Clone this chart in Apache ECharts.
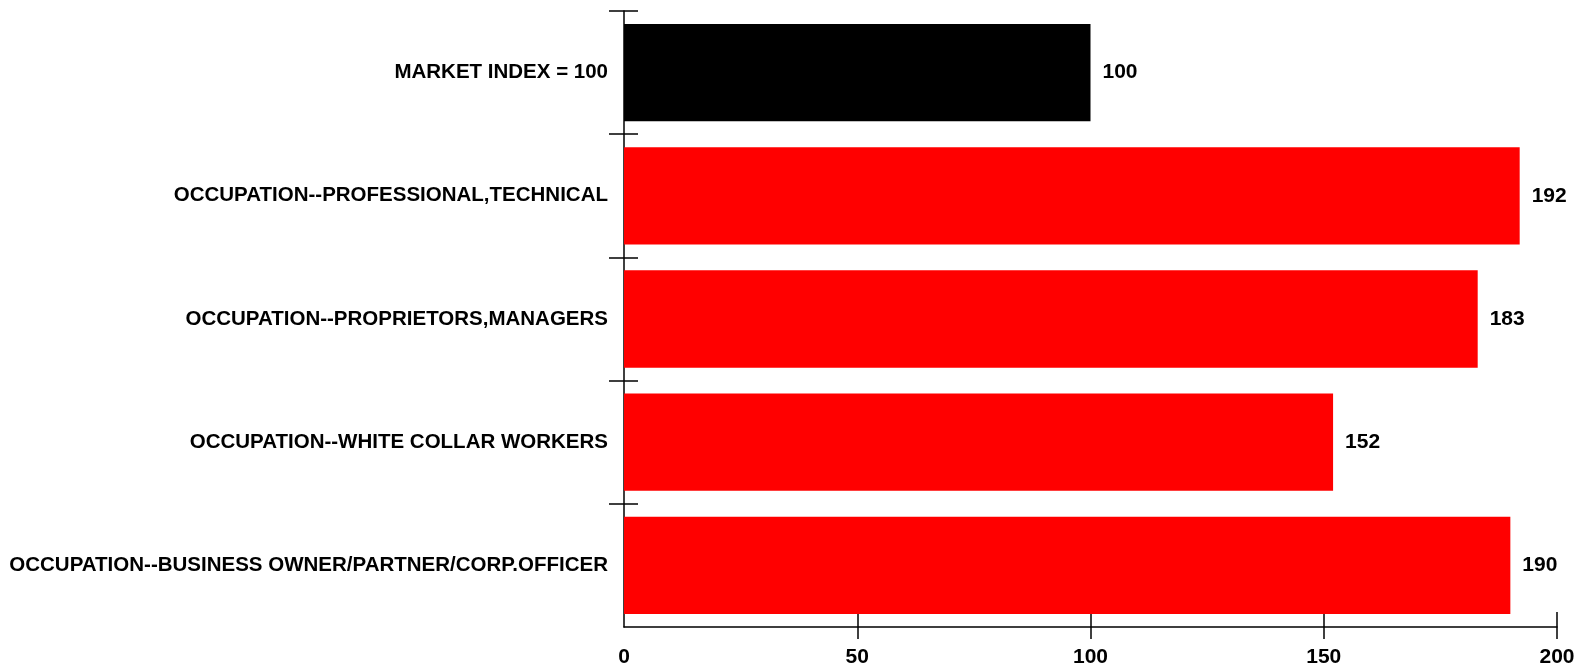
<!DOCTYPE html>
<html>
<head>
<meta charset="utf-8">
<style>
  html, body { margin: 0; padding: 0; background: #fff; }
  #chart { width: 1580px; height: 668px; }
</style>
<script src="https://cdn.jsdelivr.net/npm/echarts@6/dist/echarts.min.js"></script>
</head>
<body>
<div id="chart"></div>
<script>
// Index by segment; the first row is the market baseline (index = 100)
const categories = [
  'MARKET INDEX = 100',
  'OCCUPATION--PROFESSIONAL,TECHNICAL',
  'OCCUPATION--PROPRIETORS,MANAGERS',
  'OCCUPATION--WHITE COLLAR WORKERS',
  'OCCUPATION--BUSINESS OWNER/PARTNER/CORP.OFFICER'
];
const indexValues = [100, 192, 183, 152, 190];
const xTicks = [50, 100, 150, 200];
// row boundaries that carry a tick (top edge of each row)
const rowTicks = [0, 1, 2, 3, 4];

const FONT = '"Liberation Sans", Arial, sans-serif';

const chart = echarts.init(document.getElementById('chart'), null, { renderer: 'canvas' });

const barData = indexValues.map((v, i) => ({
  value: v,
  itemStyle: { color: i === 0 ? '#000000' : '#ff0000' }
}));

const axisLineStyle = { color: '#000', width: 1.5 };

// helper axis over row boundaries, used only to draw crossing ticks
function rowTickAxis(inside, length) {
  return {
    type: 'value', min: 0, max: categories.length, interval: 1, inverse: true,
    position: 'left',
    splitLine: { show: false },
    axisLine: { show: false, onZero: false },
    axisLabel: { show: false },
    axisTick: { show: true, inside: inside, length: length, lineStyle: axisLineStyle, customValues: rowTicks }
  };
}

chart.setOption({
  animation: false,
  backgroundColor: '#ffffff',
  grid: { left: 624, right: 23, top: 11, bottom: 39, containLabel: false },
  xAxis: [
    {
      type: 'value', min: 0, max: 200, interval: 50, position: 'bottom',
      splitLine: { show: false },
      axisLine: { show: true, onZero: false, lineStyle: axisLineStyle },
      axisTick: { show: true, inside: false, length: 12, lineStyle: axisLineStyle, customValues: xTicks },
      axisLabel: {
        margin: 20, color: '#000', fontSize: 21, fontWeight: 'bold', fontFamily: FONT
      }
    },
    {
      type: 'value', min: 0, max: 200, interval: 50, position: 'bottom',
      splitLine: { show: false },
      axisLine: { show: false, onZero: false },
      axisTick: { show: true, inside: true, length: 15, lineStyle: axisLineStyle, customValues: xTicks },
      axisLabel: { show: false }
    }
  ],
  yAxis: [
    {
      type: 'category', data: categories, inverse: true,
      axisLine: { show: true, onZero: false, lineStyle: axisLineStyle },
      axisTick: { show: false },
      axisLabel: {
        margin: 16, color: '#000', fontSize: 20.5, fontWeight: 'bold', fontFamily: FONT
      }
    },
    rowTickAxis(false, 15),
    rowTickAxis(true, 14)
  ],
  series: [
    {
      type: 'bar',
      data: barData,
      barCategoryGap: '21%',
      label: {
        show: true, position: 'right', distance: 12,
        color: '#000', fontSize: 21, fontWeight: 'bold', fontFamily: FONT
      }
    }
  ]
});
</script>
</body>
</html>
